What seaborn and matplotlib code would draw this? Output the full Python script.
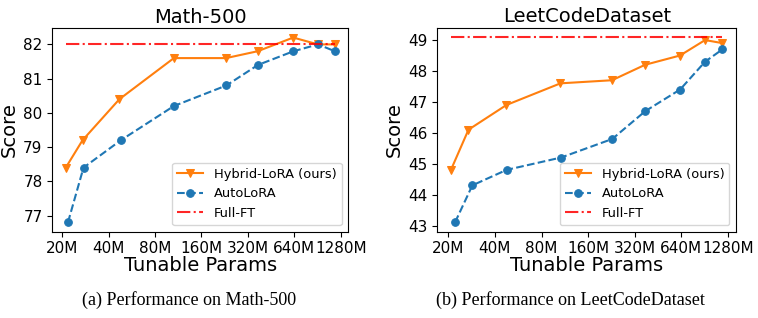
import numpy as np
import pandas as pd
import matplotlib
matplotlib.use('Agg')
import matplotlib.pyplot as plt
from matplotlib.ticker import MultipleLocator
import seaborn as sns

# tunable params (M)
math_x_hybrid = [21.1, 27.1, 47.0, 106, 231, 370, 630, 910, 1170]
math_x_auto = [21.8, 27.5, 48.0, 106, 232, 372, 632, 912, 1172]
math_hybrid = [78.4, 79.2, 80.4, 81.6, 81.6, 81.8, 82.2, 82.0, 82.0]
math_auto = [76.8, 78.4, 79.2, 80.2, 80.8, 81.4, 81.8, 82.0, 81.8]
math_full = 82.0

code_x_hybrid = [20.8, 27.0, 47.5, 106, 228, 373, 627, 910, 1178]
code_x_auto = [22.1, 28.6, 47.6, 107, 229, 374, 628, 910, 1178]
code_hybrid = [44.8, 46.1, 46.9, 47.6, 47.7, 48.2, 48.5, 49.0, 48.9]
code_auto = [43.1, 44.3, 44.8, 45.2, 45.8, 46.7, 47.4, 48.3, 48.7]
code_full = 49.1

xticks = [20, 40, 80, 160, 320, 640, 1280]
xticklabels = ['20M', '40M', '80M', '160M', '320M', '640M', '1280M']

titles = ['Math-500', 'LeetCodeDataset']
captions = ['(a) Performance on Math-500', '(b) Performance on LeetCodeDataset']


def draw_panel(ax, x_h, y_h, x_a, y_a, full, title):
    sns.lineplot(x=x_h, y=y_h, ax=ax, color='#ff7f0e', marker='v', markersize=5.5,
                 markeredgecolor='#ff7f0e', linewidth=1.5, label='Hybrid-LoRA (ours)')
    sns.lineplot(x=x_a, y=y_a, ax=ax, color='#1f77b4', marker='o', markersize=5.5,
                 markeredgecolor='#1f77b4', linestyle='--', linewidth=1.5, label='AutoLoRA')
    xs = [min(x_h[0], x_a[0]), max(x_h[-1], x_a[-1])]
    sns.lineplot(x=xs, y=[full, full], ax=ax, color='red', linestyle='-.',
                 linewidth=1.5, alpha=0.85, label='Full-FT')
    ax.set_xscale('log', base=2)
    ax.set_xticks(xticks)
    ax.set_xticklabels(xticklabels)
    ax.minorticks_off()
    ax.yaxis.set_major_locator(MultipleLocator(1))
    ax.tick_params(labelsize=11)
    ax.set_xlabel('Tunable Params', fontsize=14, labelpad=0)
    ax.set_ylabel('Score', fontsize=14, labelpad=3)
    ax.set_title(title, fontsize=14, pad=4)
    ax.legend(loc='lower right', fontsize=9.4)


fig = plt.figure(figsize=(7.58, 3.18), dpi=100)
ax1 = fig.add_axes([0.069, 0.2714, 0.3905, 0.6396])
ax2 = fig.add_axes([0.577, 0.2714, 0.394, 0.6415])

draw_panel(ax1, math_x_hybrid, math_hybrid, math_x_auto, math_auto, math_full, titles[0])
draw_panel(ax2, code_x_hybrid, code_hybrid, code_x_auto, code_auto, code_full, titles[1])

fig.text(0.25, 0.055, captions[0], ha='center', va='center', fontsize=13,
         family='Liberation Serif')
fig.text(0.752, 0.055, captions[1], ha='center', va='center', fontsize=13,
         family='Liberation Serif')

fig.savefig('out.png', dpi=100)
